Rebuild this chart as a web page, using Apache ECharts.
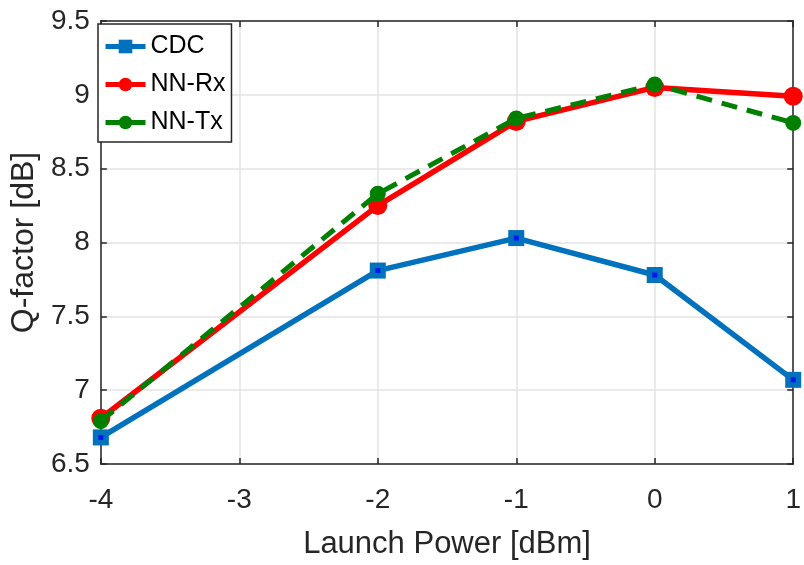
<!DOCTYPE html>
<html>
<head>
<meta charset="utf-8">
<script src="https://cdn.jsdelivr.net/npm/echarts@6/dist/echarts.min.js"></script>
<style>
  html, body { margin: 0; padding: 0; background: #fff; }
  #chart { width: 804px; height: 565px; }
</style>
</head>
<body>
<div id="chart"></div>
<script>
// Launch power sweep (dBm) and Q-factor results (dB)
const launchPower = [-4, -2, -1, 0, 1];
const qCDC  = [6.68, 7.81, 8.03, 7.78, 7.07];
const qNNRx = [6.81, 8.25, 8.82, 9.05, 8.99];
const qNNTx = [6.79, 8.33, 8.84, 9.07, 8.81];

const xTicks = [-4, -3, -2, -1, 0, 1];
const yTicks = [6.5, 7, 7.5, 8, 8.5, 9, 9.5];

const pairs = (ys) => launchPower.map((x, i) => [x, ys[i]]);

const FONT = '"Liberation Sans", Arial, sans-serif';
const INK = '#262626';

const chart = echarts.init(document.getElementById('chart'), null, { renderer: 'canvas' });

const baseX = {
  type: 'value',
  min: xTicks[0],
  max: xTicks[xTicks.length - 1],
  interval: 1,
  axisLine: { show: true, onZero: false, lineStyle: { color: INK, width: 1.5 } },
  axisTick: { show: true, inside: true, length: 6, lineStyle: { color: INK, width: 1.5 } },
  splitLine: { show: false },
  axisLabel: { show: false }
};
const baseY = {
  type: 'value',
  min: yTicks[0],
  max: yTicks[yTicks.length - 1],
  interval: 0.5,
  axisLine: { show: true, onZero: false, lineStyle: { color: INK, width: 1.5 } },
  axisTick: { show: true, inside: true, length: 6, lineStyle: { color: INK, width: 1.5 } },
  splitLine: { show: false },
  axisLabel: { show: false }
};

chart.setOption({
  animation: false,
  backgroundColor: '#ffffff',
  grid: { left: 96, right: 6, top: 21, bottom: 95, containLabel: false },
  xAxis: [
    Object.assign({}, baseX, {
      position: 'bottom',
      name: 'Launch Power [dBm]',
      nameLocation: 'middle',
      nameGap: 65,
      nameTextStyle: { fontFamily: FONT, fontSize: 31, color: INK },
      splitLine: { show: true, lineStyle: { color: '#e3e3e3', width: 1.5 } },
      axisLabel: { show: true, fontFamily: FONT, fontSize: 28, color: INK, margin: 22 }
    }),
    Object.assign({}, baseX, { position: 'top' })
  ],
  yAxis: [
    Object.assign({}, baseY, {
      position: 'left',
      name: 'Q-factor [dB]',
      nameLocation: 'middle',
      nameGap: 54,
      nameRotate: 90,
      nameTextStyle: { fontFamily: FONT, fontSize: 32, color: INK },
      splitLine: { show: true, lineStyle: { color: '#e3e3e3', width: 1.5 } },
      axisLabel: {
        show: true, fontFamily: FONT, fontSize: 28, color: INK, margin: 11,
        formatter: (v) => String(v)
      }
    }),
    Object.assign({}, baseY, { position: 'right' })
  ],
  legend: {
    orient: 'vertical',
    left: 98,
    top: 24,
    padding: [10, 6, 7, 5],
    itemGap: 13,
    itemWidth: 40,
    itemHeight: 17,
    backgroundColor: '#ffffff',
    borderColor: INK,
    borderWidth: 1.5,
    borderRadius: 0,
    lineStyle: { width: 5 },
    textStyle: { fontFamily: FONT, fontSize: 25, color: '#000' },
    data: ['CDC', 'NN-Rx', 'NN-Tx']
  },
  series: [
    {
      name: 'CDC',
      type: 'line',
      data: pairs(qCDC),
      symbol: 'rect',
      symbolSize: 16,
      itemStyle: { color: '#0072BD' },
      lineStyle: { color: '#0072BD', width: 5.5 },
      clip: false,
      z: 2
    },
    {
      // small inner dot of the CDC square markers
      name: 'CDC-dot',
      type: 'scatter',
      data: pairs(qCDC),
      symbol: 'rect',
      symbolSize: 5,
      itemStyle: { color: '#0000ff' },
      silent: true,
      clip: false,
      z: 3
    },
    {
      name: 'NN-Rx',
      type: 'line',
      data: pairs(qNNRx),
      symbol: 'circle',
      symbolSize: 19,
      itemStyle: { color: '#ff0000' },
      lineStyle: { color: '#ff0000', width: 5.5 },
      clip: false,
      z: 4
    },
    {
      name: 'NN-Tx',
      type: 'line',
      data: pairs(qNNTx),
      symbol: 'circle',
      symbolSize: 16,
      itemStyle: { color: '#008000' },
      lineStyle: { color: '#008000', width: 5, type: [16, 10] },
      clip: false,
      z: 5
    }
  ]
});
</script>
</body>
</html>
